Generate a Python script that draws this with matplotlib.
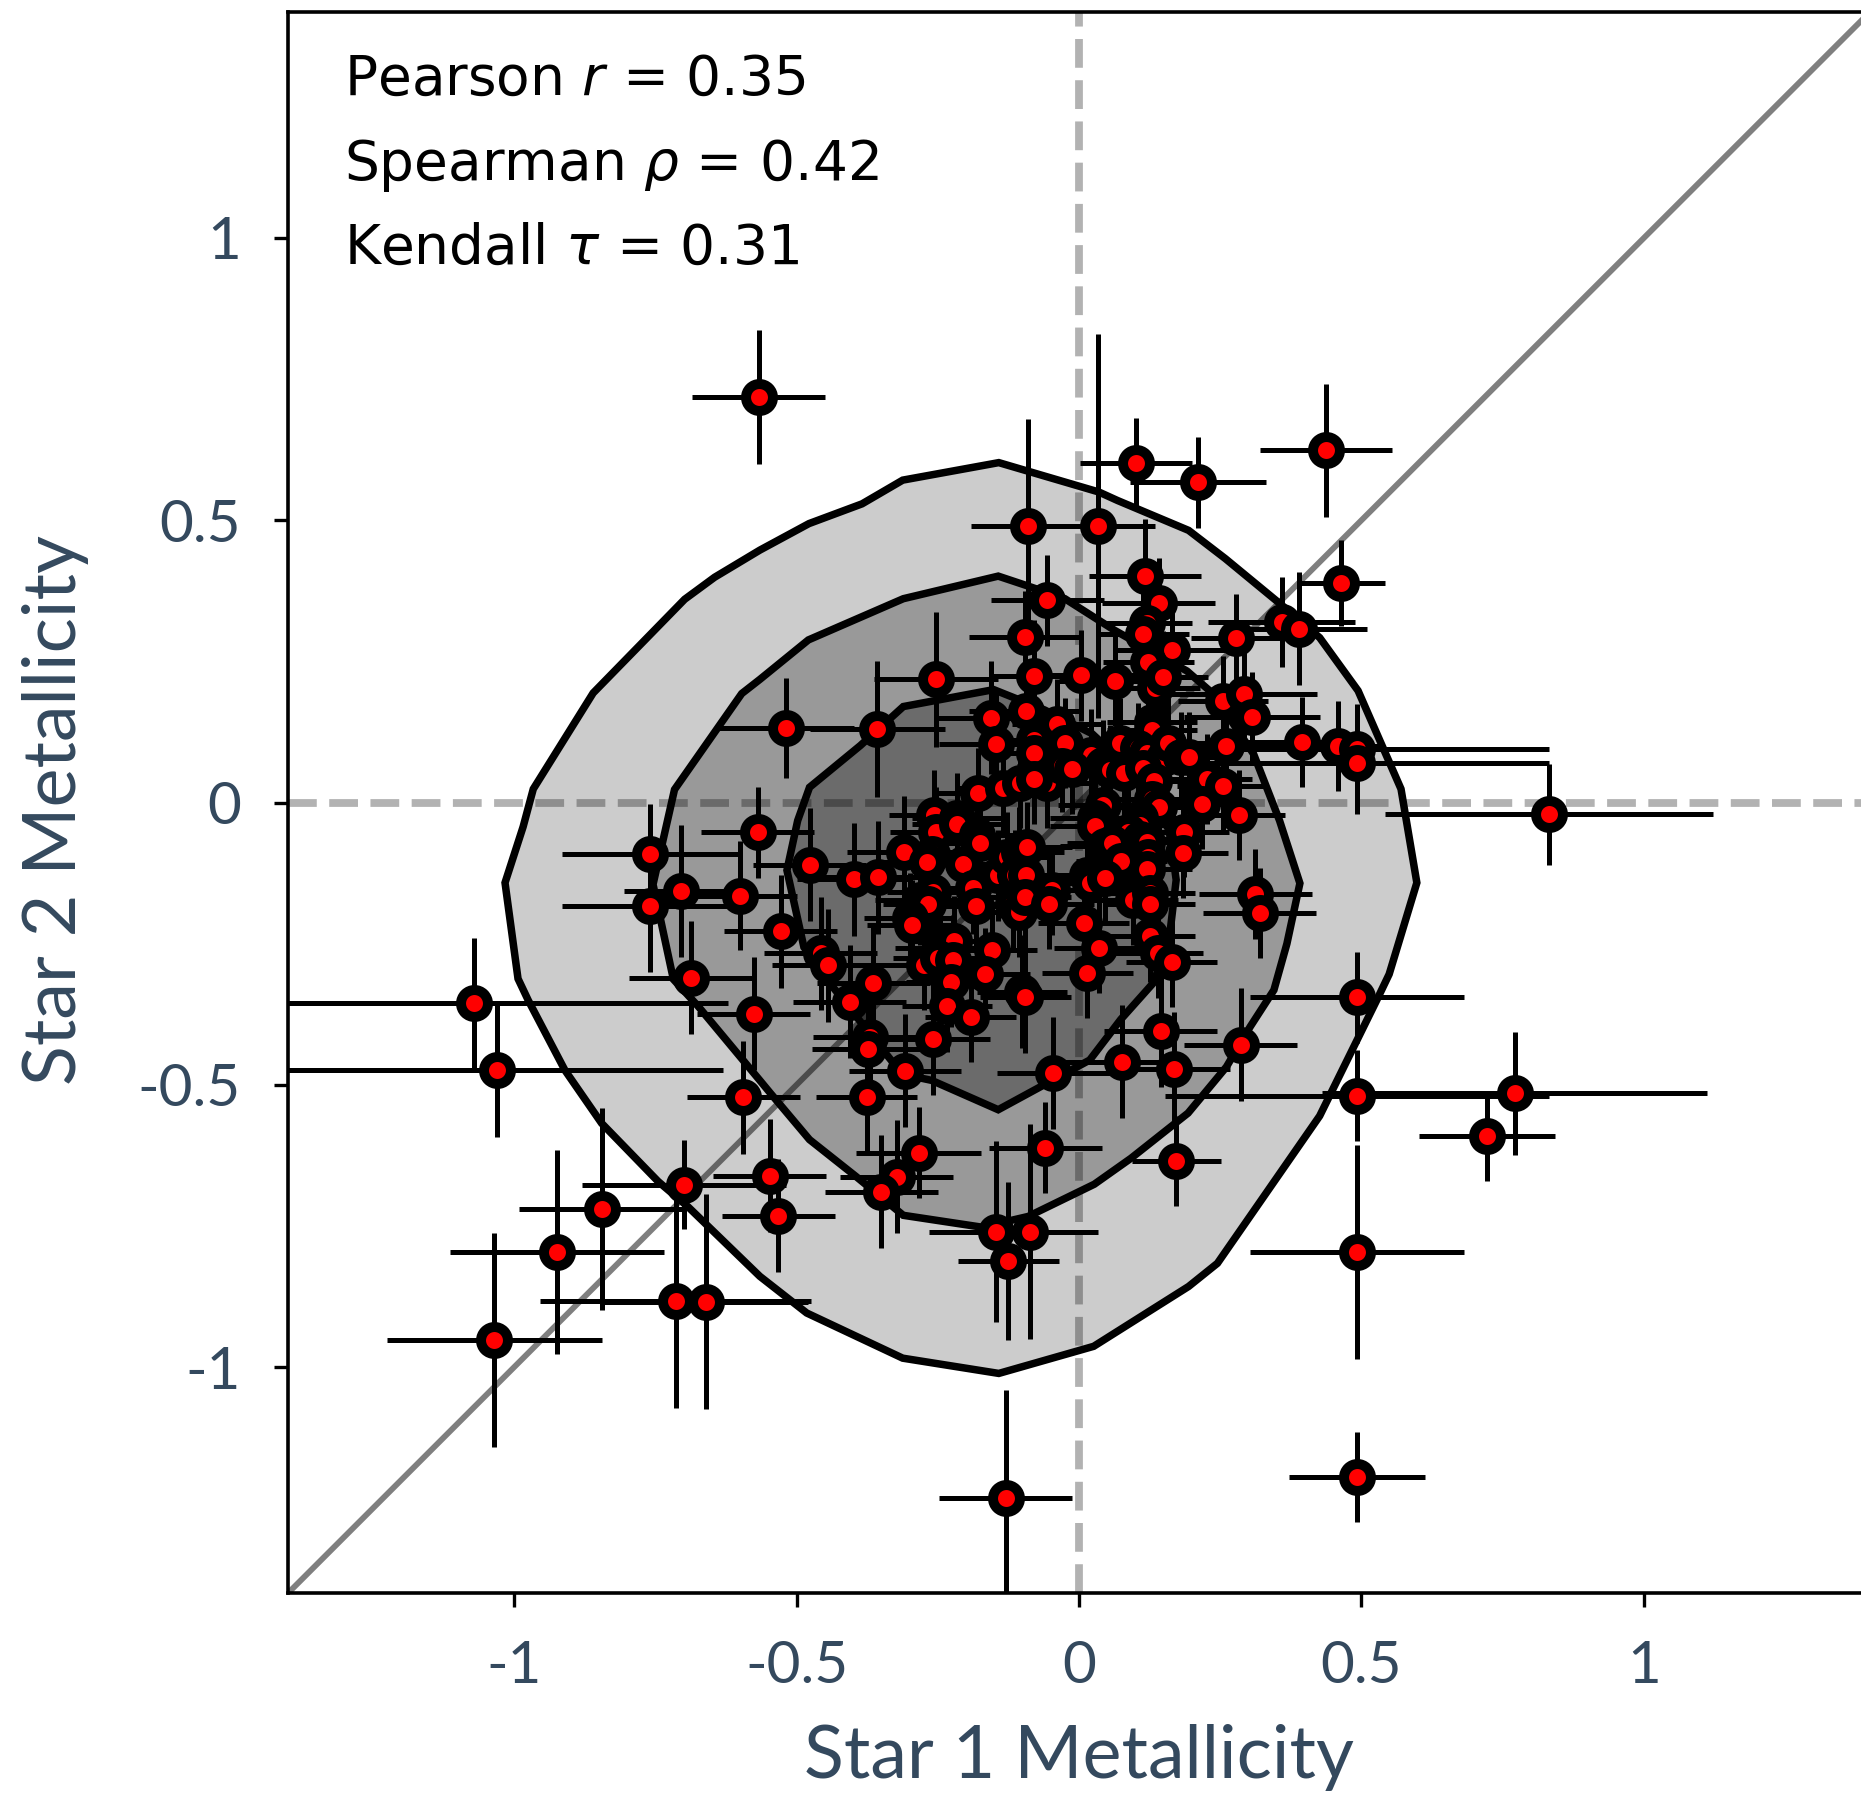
import matplotlib
matplotlib.use("Agg")
from matplotlib import pyplot as plt

label_color = "#34495e"
label_font = "Lato"

# metallicity pairs: star 1 (x), star 2 (y) and their uncertainties
star1 = [
    -0.567, 0.437, 0.101, 0.211, -0.091, 0.034, 0.464, 0.117, -0.056, 0.141,
    0.359, 0.389, -0.095, 0.120, 0.114, 0.164, 0.278, -0.253, 0.003, -0.080,
    0.064, 0.123, 0.135, 0.148, -0.519, -0.357, -0.155, -0.094, 0.255, 0.292,
    0.306, 0.394, 0.129, 0.129, -0.147, -0.080, -0.080, -0.039, -0.024, 0.073,
    0.021, 0.261, -0.057, -0.030, -0.013, 0.043, 0.055, 0.079, 0.105, 0.120,
    0.150, 0.114, 0.158, 0.180, 0.195, 0.132, 0.226, 0.254, 0.043, 0.129,
    0.142, 0.217, 0.284, 0.029, 0.108, -0.178, -0.134, -0.104, -0.080, -0.257,
    -0.216, 0.458, 0.492, 0.492, 0.832, 0.492, 0.492, 0.771, 0.722, 0.492,
    0.492, 0.286, 0.172, 0.168, 0.145, 0.076, -0.046, -0.060, -0.086, -0.147,
    -0.125, -0.130, -1.071, -1.031, -0.699, -0.844, -0.924, -0.714, -0.660, -1.035,
    -0.594, -0.576, -0.759, -0.759, -0.705, -0.600, -0.569, -0.687, -0.477, -0.399,
    -0.355, -0.310, -0.254, -0.216, -0.260, -0.269, -0.205, -0.180, -0.175, -0.143,
    -0.128, -0.107, -0.092, -0.113, -0.094, -0.187, -0.182, -0.281, -0.259, -0.267,
    -0.116, -0.107, -0.095, -0.300, -0.296, -0.528, -0.457, -0.444, -0.246, -0.222,
    -0.275, -0.249, -0.223, -0.154, -0.166, -0.227, -0.364, -0.406, -0.234, -0.192,
    -0.101, -0.095, -0.370, -0.373, -0.258, -0.308, -0.376, -0.284, -0.323, -0.350,
    -0.547, -0.532, 0.029, 0.108, 0.087, 0.108, 0.120, 0.046, 0.058, 0.075,
    0.123, 0.120, 0.186, 0.184, 0.014, 0.020, 0.046, -0.048, -0.054, 0.096,
    0.126, 0.126, 0.312, 0.320, 0.008, 0.125, 0.036, 0.139, 0.164, 0.015,
]
star2 = [
    0.718, 0.624, 0.601, 0.567, 0.490, 0.490, 0.389, 0.402, 0.358, 0.353,
    0.320, 0.308, 0.294, 0.318, 0.299, 0.271, 0.292, 0.218, 0.225, 0.224,
    0.215, 0.249, 0.202, 0.223, 0.132, 0.130, 0.150, 0.162, 0.180, 0.193,
    0.152, 0.107, 0.143, 0.128, 0.103, 0.110, 0.087, 0.139, 0.106, 0.105,
    0.085, 0.100, 0.035, 0.064, 0.059, 0.067, 0.058, 0.052, 0.096, 0.087,
    0.079, 0.062, 0.106, 0.080, 0.080, 0.039, 0.042, 0.029, -0.005, 0.006,
    -0.008, -0.003, -0.022, -0.028, -0.028, 0.017, 0.026, 0.035, 0.042, -0.022,
    -0.028, 0.100, 0.095, 0.070, -0.021, -0.345, -0.519, -0.515, -0.591, -0.796,
    -1.195, -0.429, -0.635, -0.471, -0.404, -0.459, -0.479, -0.611, -0.760, -0.760,
    -0.812, -1.231, -0.355, -0.473, -0.677, -0.720, -0.796, -0.882, -0.884, -0.952,
    -0.522, -0.374, -0.091, -0.183, -0.157, -0.165, -0.053, -0.310, -0.110, -0.136,
    -0.132, -0.088, -0.052, -0.038, -0.092, -0.105, -0.108, -0.057, -0.072, -0.129,
    -0.096, -0.088, -0.079, -0.129, -0.129, -0.152, -0.183, -0.172, -0.158, -0.179,
    -0.179, -0.193, -0.167, -0.205, -0.217, -0.228, -0.267, -0.288, -0.258, -0.246,
    -0.287, -0.276, -0.279, -0.262, -0.303, -0.317, -0.319, -0.353, -0.361, -0.380,
    -0.335, -0.344, -0.415, -0.437, -0.418, -0.475, -0.521, -0.620, -0.663, -0.689,
    -0.661, -0.732, -0.042, -0.040, -0.052, -0.064, -0.070, -0.077, -0.072, -0.104,
    -0.096, -0.117, -0.052, -0.089, -0.129, -0.143, -0.134, -0.155, -0.179, -0.172,
    -0.161, -0.179, -0.162, -0.196, -0.213, -0.237, -0.257, -0.266, -0.282, -0.301,
]
star1_err = [
    0.118, 0.117, 0.099, 0.120, 0.100, 0.100, 0.077, 0.099, 0.100, 0.100,
    0.130, 0.120, 0.100, 0.080, 0.080, 0.100, 0.080, 0.110, 0.100, 0.080,
    0.100, 0.080, 0.080, 0.080, 0.120, 0.120, 0.100, 0.100, 0.080, 0.130,
    0.120, 0.100, 0.080, 0.080, 0.100, 0.080, 0.080, 0.080, 0.080, 0.080,
    0.080, 0.120, 0.080, 0.080, 0.080, 0.080, 0.080, 0.080, 0.080, 0.080,
    0.080, 0.080, 0.080, 0.080, 0.080, 0.080, 0.080, 0.080, 0.080, 0.080,
    0.080, 0.080, 0.080, 0.080, 0.080, 0.080, 0.080, 0.080, 0.080, 0.080,
    0.080, 0.080, 0.340, 0.340, 0.290, 0.190, 0.340, 0.340, 0.120, 0.190,
    0.120, 0.100, 0.079, 0.100, 0.100, 0.100, 0.100, 0.100, 0.119, 0.118,
    0.090, 0.118, 0.450, 0.400, 0.180, 0.147, 0.190, 0.240, 0.180, 0.190,
    0.100, 0.100, 0.156, 0.156, 0.100, 0.100, 0.100, 0.110, 0.100, 0.100,
    0.100, 0.100, 0.080, 0.080, 0.080, 0.080, 0.080, 0.080, 0.080, 0.080,
    0.080, 0.080, 0.080, 0.080, 0.080, 0.080, 0.080, 0.080, 0.080, 0.080,
    0.080, 0.080, 0.080, 0.080, 0.080, 0.100, 0.100, 0.100, 0.080, 0.080,
    0.080, 0.080, 0.080, 0.080, 0.080, 0.080, 0.100, 0.100, 0.080, 0.080,
    0.080, 0.080, 0.100, 0.100, 0.100, 0.100, 0.090, 0.110, 0.100, 0.100,
    0.100, 0.100, 0.080, 0.080, 0.080, 0.080, 0.080, 0.080, 0.080, 0.080,
    0.080, 0.080, 0.080, 0.080, 0.080, 0.080, 0.080, 0.080, 0.080, 0.080,
    0.080, 0.080, 0.100, 0.100, 0.080, 0.080, 0.080, 0.080, 0.080, 0.080,
]
star2_err = [
    0.118, 0.118, 0.080, 0.080, 0.190, 0.340, 0.076, 0.100, 0.080, 0.080,
    0.080, 0.100, 0.080, 0.080, 0.080, 0.080, 0.078, 0.119, 0.080, 0.100,
    0.080, 0.080, 0.080, 0.080, 0.089, 0.120, 0.100, 0.080, 0.080, 0.080,
    0.080, 0.080, 0.080, 0.080, 0.100, 0.080, 0.080, 0.080, 0.080, 0.080,
    0.080, 0.080, 0.080, 0.080, 0.080, 0.080, 0.080, 0.080, 0.080, 0.080,
    0.080, 0.080, 0.080, 0.080, 0.080, 0.080, 0.080, 0.080, 0.080, 0.080,
    0.080, 0.080, 0.080, 0.080, 0.080, 0.080, 0.080, 0.080, 0.080, 0.080,
    0.080, 0.080, 0.080, 0.090, 0.089, 0.080, 0.080, 0.109, 0.080, 0.190,
    0.080, 0.100, 0.080, 0.100, 0.100, 0.100, 0.100, 0.080, 0.190, 0.160,
    0.140, 0.190, 0.115, 0.120, 0.079, 0.179, 0.180, 0.190, 0.190, 0.190,
    0.100, 0.100, 0.088, 0.117, 0.117, 0.097, 0.080, 0.100, 0.100, 0.100,
    0.100, 0.100, 0.080, 0.080, 0.080, 0.080, 0.080, 0.080, 0.080, 0.080,
    0.080, 0.080, 0.080, 0.080, 0.080, 0.080, 0.080, 0.080, 0.080, 0.080,
    0.080, 0.080, 0.080, 0.080, 0.080, 0.100, 0.100, 0.100, 0.080, 0.080,
    0.080, 0.080, 0.080, 0.080, 0.080, 0.080, 0.100, 0.100, 0.080, 0.080,
    0.100, 0.100, 0.100, 0.100, 0.100, 0.100, 0.100, 0.080, 0.100, 0.100,
    0.100, 0.100, 0.080, 0.080, 0.080, 0.080, 0.080, 0.080, 0.080, 0.080,
    0.080, 0.080, 0.080, 0.080, 0.080, 0.080, 0.080, 0.080, 0.080, 0.080,
    0.080, 0.080, 0.080, 0.080, 0.080, 0.080, 0.080, 0.080, 0.080, 0.080,
]

# density contour outlines (outer, middle, inner)
outer_x = [-0.142, -0.312, -0.384, -0.478, -0.565, -0.645, -0.698, -0.860, -0.966, -0.984,
           -1.016, -0.993, -0.975, -0.910, -0.845, -0.745, -0.692, -0.565, -0.482, -0.312,
           -0.142, 0.026, 0.194, 0.245, 0.426, 0.527, 0.549, 0.598, 0.570, 0.494,
           0.426, 0.356, 0.259, 0.194, 0.068, 0.035]
outer_y = [0.602, 0.571, 0.529, 0.494, 0.447, 0.399, 0.360, 0.194, 0.024, -0.043,
           -0.142, -0.312, -0.350, -0.474, -0.568, -0.671, -0.716, -0.839, -0.904, -0.984,
           -1.011, -0.963, -0.857, -0.816, -0.555, -0.350, -0.304, -0.142, 0.024, 0.198,
           0.292, 0.352, 0.432, 0.482, 0.535, 0.550]
middle_x = [-0.143, -0.092, -0.025, 0.063, 0.191, 0.237, 0.309, 0.355, 0.391, 0.368,
            0.345, 0.303, 0.261, 0.193, 0.092, 0.027, -0.090, -0.172, -0.311, -0.395,
            -0.477, -0.546, -0.565, -0.674, -0.718, -0.754, -0.716, -0.597, -0.565, -0.479,
            -0.311]
middle_y = [0.401, 0.384, 0.361, 0.305, 0.233, 0.193, 0.086, -0.032, -0.143, -0.250,
            -0.332, -0.397, -0.468, -0.550, -0.630, -0.676, -0.733, -0.752, -0.731, -0.662,
            -0.597, -0.515, -0.492, -0.361, -0.313, -0.145, 0.023, 0.193, 0.218, 0.288,
            0.361]
inner_x = [-0.151, -0.061, 0.023, 0.107, 0.160, 0.172, 0.160, 0.132, 0.074, 0.019,
           -0.143, -0.261, -0.313, -0.445, -0.487, -0.517, -0.498, -0.477, -0.387, -0.311]
inner_y = [0.200, 0.164, 0.122, 0.044, -0.050, -0.137, -0.239, -0.319, -0.384, -0.456,
           -0.544, -0.492, -0.481, -0.315, -0.256, -0.120, -0.032, 0.027, 0.101, 0.170]
contour_fills = ["#cccccc", "#999999", "#6b6b6b"]

stats_text = [
    "Pearson $r$ = 0.35",
    "Spearman $\\rho$ = 0.42",
    "Kendall $\\tau$ = 0.31",
]

fig = plt.figure(figsize=(1861 / 200, 1794 / 200), dpi=200)
ax = fig.add_axes([0.1548, 0.112, 0.850, 0.8813])

for (cx, cy), fc in zip([(outer_x, outer_y), (middle_x, middle_y), (inner_x, inner_y)],
                        contour_fills):
    ax.fill(cx, cy, facecolor=fc, edgecolor="k", linewidth=2.7, zorder=1)

ax.axhline(0, color="k", alpha=0.3, lw=2.8, ls="--", zorder=2)
ax.axvline(0, color="k", alpha=0.3, lw=2.8, ls="--", zorder=2)
ax.plot([-1.4, 1.4], [-1.4, 1.4], color="k", alpha=0.5, lw=2.1, zorder=2)

ax.errorbar(star1, star2, xerr=star1_err, yerr=star2_err, fmt="none",
            ecolor="k", elinewidth=1.8, capsize=0, zorder=3)
ax.plot(star1, star2, "o", color="red", markeredgecolor="k", ms=9.7, mew=3.6,
        linestyle="none", zorder=4)

for i, t in enumerate(stats_text):
    ax.text(0.0355, 0.9475 - i * 0.0535, t, transform=ax.transAxes, fontsize=19.8,
            va="baseline", ha="left", family="DejaVu Sans", zorder=5)

ax.set_xlim(-1.4, 1.4)
ax.set_ylim(-1.4, 1.4)
ticks = [-1, -0.5, 0, 0.5, 1]
tick_labels = ["-1", "-0.5", "0", "0.5", "1"]
ax.set_xticks(ticks)
ax.set_xticklabels(tick_labels)
ax.set_yticks(ticks)
ax.set_yticklabels(tick_labels)
ax.tick_params(direction="out", length=5, width=1.2, pad=12, labelsize=21,
               labelcolor=label_color, colors="k")
for lab in ax.get_xticklabels() + ax.get_yticklabels():
    lab.set_family(label_font)
for sp in ax.spines.values():
    sp.set_linewidth(1.3)

ax.set_xlabel("Star 1 Metallicity", fontsize=26.5, color=label_color, family=label_font)
ax.set_ylabel("Star 2 Metallicity", fontsize=26.5, color=label_color, family=label_font)
ax.xaxis.set_label_coords(0.5, -0.083)
ax.yaxis.set_label_coords(-0.126, 0.495)

fig.savefig("out.png", dpi=200)
